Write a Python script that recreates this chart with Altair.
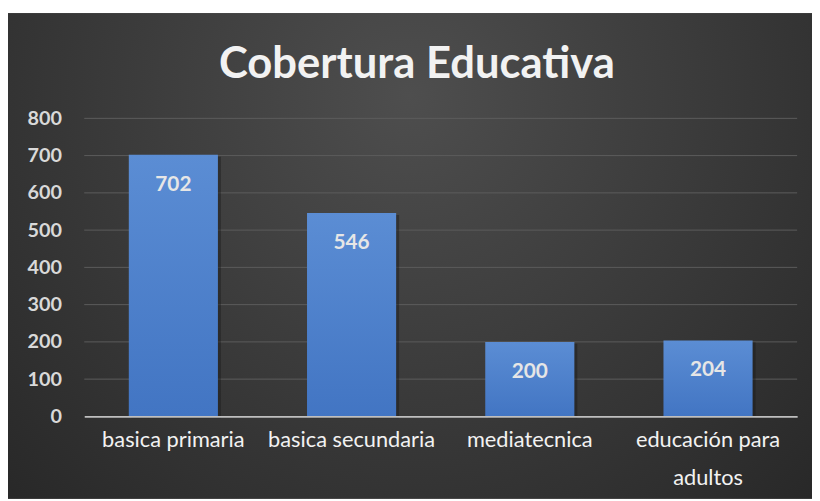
import altair as alt
import pandas as pd

categories = ["basica primaria", "basica secundaria", "mediatecnica", "educación para adultos"]
values = [702, 546, 200, 204]
y_ticks = [0, 100, 200, 300, 400, 500, 600, 700, 800]

df = pd.DataFrame({"categoria": categories, "valor": values})
grid_df = pd.DataFrame({"valor": y_ticks[1:]})

FONT = "Lato"
W, H = 720, 301
PL, PT, PR, PB = 77, 109, 15, 83

y_scale = alt.Scale(domain=[0, 800], nice=False)

x_enc = alt.X(
    "categoria:N",
    sort=categories,
    scale=alt.Scale(paddingInner=0.5, paddingOuter=0.25),
    axis=alt.Axis(
        title=None,
        labelAngle=0,
        labelFont=FONT,
        labelFontSize=22,
        labelColor="#f2f2f2",
        labelPadding=13,
        labelLineHeight=39,
        labelExpr="datum.label == 'educación para adultos' ? ['educación para', 'adultos'] : datum.label",
        ticks=False,
        domainColor="#bfbfbf",
        domainWidth=2,
        grid=False,
        zindex=1,
    ),
)

y_enc = alt.Y(
    "valor:Q",
    scale=y_scale,
    axis=alt.Axis(
        title=None,
        values=y_ticks,
        labelFont=FONT,
        labelFontSize=20,
        labelFontWeight="bold",
        labelColor="#d9d9d9",
        labelPadding=23,
        ticks=False,
        domain=False,
        grid=False,
        zindex=1,
    ),
)

bg = alt.Chart(df).mark_rect(
    color=alt.Gradient(
        gradient="radial",
        x1=0.5, y1=0.3, x2=0.5, y2=0.3, r1=0, r2=0.75,
        stops=[
            alt.GradientStop(color="#4e4e4e", offset=0),
            alt.GradientStop(color="#262626", offset=1),
        ],
    )
).encode(x=alt.value(-PL), x2=alt.value(W + PR), y=alt.value(-PT + 3), y2=alt.value(H + PB))

grid = alt.Chart(grid_df).mark_rule(color="#5c5c5c", strokeWidth=1).encode(
    y=y_enc,
    x=alt.value(0),
    x2=alt.value(W),
)

bar_gradient = alt.Gradient(
    gradient="linear",
    x1=0, y1=0, x2=0, y2=1,
    stops=[
        alt.GradientStop(color="#5b8dd4", offset=0),
        alt.GradientStop(color="#4275c3", offset=1),
    ],
)

shadow = alt.Chart(df).mark_bar(color="#1a1a1a", opacity=0.45, xOffset=3, yOffset=2).encode(
    x=x_enc, y=y_enc
)

bars = alt.Chart(df).mark_bar(color=bar_gradient).encode(x=x_enc, y=y_enc)

labels = alt.Chart(df).mark_text(
    font=FONT, fontSize=21, fontWeight="bold", color="#e6e6e6", dy=30, baseline="middle"
).encode(x=x_enc, y=y_enc, text=alt.Text("valor:Q"))

chart = (
    alt.layer(bg, grid, shadow, bars, labels)
    .properties(
        width=W,
        height=H,
        title=alt.TitleParams(
            "Cobertura Educativa",
            font=FONT,
            fontSize=44,
            fontWeight="bold",
            color="#f2f2f2",
            anchor="middle",
            frame="bounds",
            offset=-74,
            dx=7,
            zindex=1,
        ),
        padding={"left": PL, "top": PT, "right": PR, "bottom": PB},
        autosize=alt.AutoSizeParams(type="none"),
        background="#ffffff",
    )
    .configure_view(strokeWidth=0)
)

chart.save("out.html", embed_options={"renderer": "svg", "actions": False})
